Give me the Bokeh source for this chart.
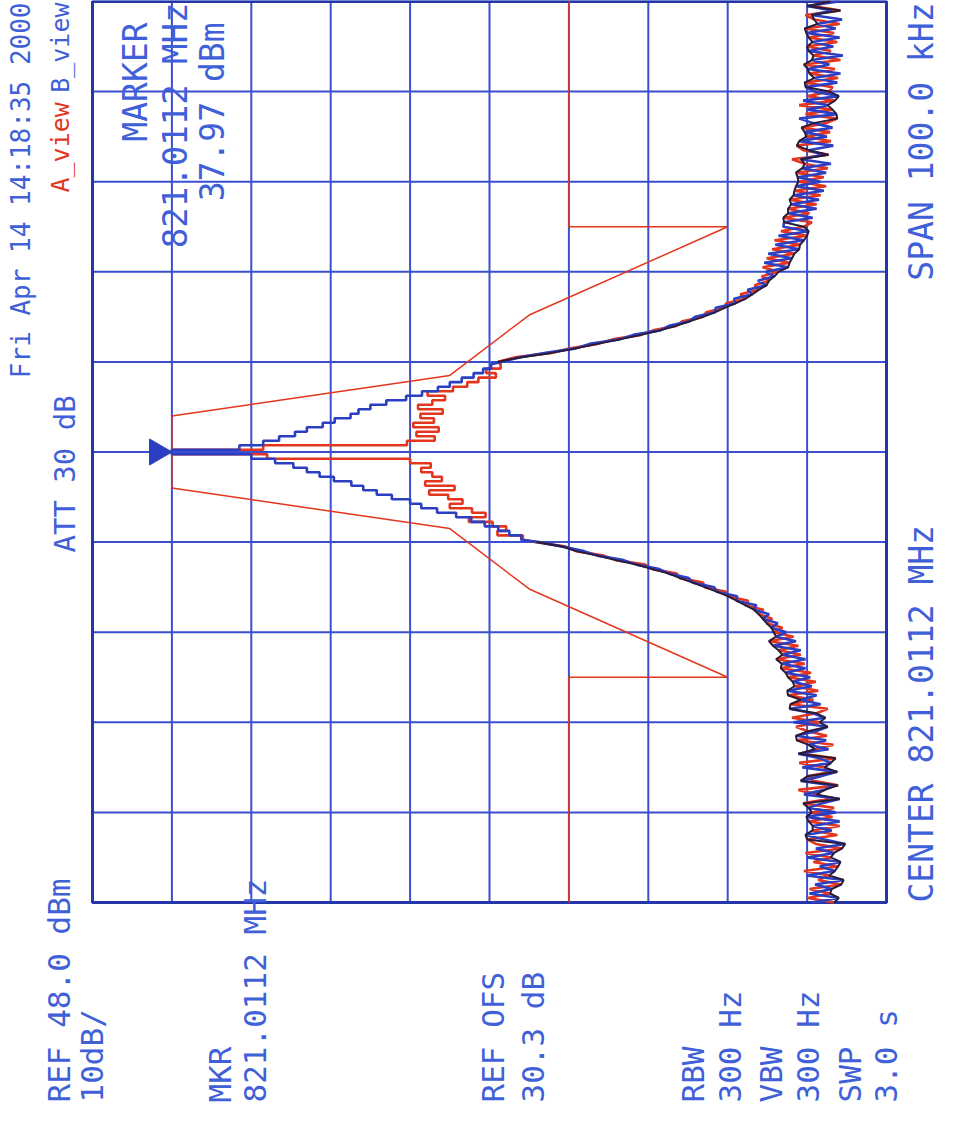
import math
from bokeh.plotting import figure
from bokeh.models import Range1d, Label
from bokeh.embed import file_html
from bokeh.resources import INLINE

# ---------------- data ----------------
FREQ_START = -50.0   # kHz offset from centre
FREQ_STEP = 0.5      # kHz per trace bin

# B_view (blue) trace, dBm, from -50 kHz to +50 kHz
trace_b = [
    -42.6, -46.0, -42.3, -45.1, -43.0, -46.6, -41.9, -45.5, -43.6, -46.2,
    -42.0, -45.4, -43.1, -46.8, -44.2, -41.8, -45.1, -42.7, -46.1, -41.9,
    -45.6, -42.2, -43.8, -46.1, -41.6, -44.2, -45.3, -41.2, -43.7, -45.8,
    -41.4, -45.0, -43.6, -40.9, -44.7, -42.2, -44.4, -40.6, -43.1, -44.6,
    -40.3, -44.3, -42.7, -39.8, -43.7, -41.2, -43.2, -39.5, -42.6, -40.2,
    -42.4, -39.3, -41.8, -38.8, -41.8, -38.9, -41.2, -37.7, -40.6, -38.1,
    -39.4, -37.5, -38.3, -36.4, -37.2, -35.3, -35.6, -33.1, -33.2, -30.6,
    -30.3, -27.6, -27.1, -24.6, -23.4, -20.5, -18.9, -15.6, -13.9, -11.2,
    -8.2, -6.0, -4.5, -3.1, -1.4, 0.3, 2.2, 4.6, 6.6, 8.0,
    10.3, 12.2, 13.9, 15.4, 17.6, 19.4, 21.0, 22.7, 25.0, 28.0,
    38.0,
    29.5, 26.5, 24.5, 22.5, 21.0, 19.0, 17.5, 15.5, 14.5, 13.0,
    11.0, 8.5, 6.5, 4.5, 3.0, 1.5, 0.0, -1.2, -2.2, -3.5,
    -5.8, -9.1, -12.9, -14.6, -18.4, -20.1, -23.5, -24.6, -27.2, -27.9,
    -30.4, -30.5, -33.0, -32.8, -35.1, -34.5, -36.9, -35.8, -37.9, -36.8,
    -39.6, -36.6, -40.1, -37.1, -41.0, -38.0, -41.6, -38.4, -42.2, -39.0,
    -39.1, -42.7, -39.6, -43.2, -40.0, -43.5, -40.3, -44.1, -40.6, -43.7,
    -40.8, -44.4, -41.4, -45.0, -41.2, -44.0, -42.2, -45.3, -41.0, -44.5,
    -41.7, -45.2, -42.8, -41.0, -45.7, -42.1, -44.6, -41.5, -46.0, -43.0,
    -41.8, -45.8, -42.9, -46.2, -42.1, -44.8, -42.6, -46.5, -42.2, -45.3,
    -42.7, -46.1, -41.9, -45.6, -43.3, -46.4, -42.6, -45.1, -42.0, -46.0,
]

# A_view (red) trace, dBm, from -50 kHz to +50 kHz
trace_a = [
    -45.4, -42.1, -44.9, -42.3, -46.3, -43.4, -44.8, -41.6, -45.9, -42.8,
    -45.0, -41.8, -46.4, -43.1, -42.0, -45.8, -42.7, -46.1, -42.2, -45.2,
    -42.6, -45.4, -41.5, -44.8, -43.2, -40.9, -45.9, -42.8, -42.0, -45.1,
    -44.2, -41.0, -45.6, -41.5, -43.0, -45.3, -40.7, -44.5, -42.1, -40.6,
    -43.6, -40.1, -43.2, -44.6, -39.9, -42.8, -39.6, -43.4, -40.4, -43.1,
    -39.6, -42.5, -38.7, -41.7, -38.1, -41.2, -38.4, -40.9, -37.2, -40.3,
    -37.8, -38.9, -36.9, -37.6, -35.9, -36.5, -34.2, -34.6, -32.0, -31.8,
    -29.1, -28.9, -26.0, -25.6, -22.5, -21.6, -17.9, -16.4, -12.9, -11.6,
    -7.9, -6.2, -3.0, -4.1, -2.4, 0.6, -1.5, 0.2, 3.0, 1.4,
    3.2, 5.6, 2.4, 6.1, 4.0, 5.2, 6.6, 5.4, 8.0, 26.0,
    38.0,
    26.5, 8.4, 4.9, 7.2, 4.4, 7.6, 5.0, 6.7, 3.9, 7.0,
    5.2, 3.6, 5.8, 2.6, 0.8, -0.6, -2.8, -1.6, -3.4, -3.0,
    -5.2, -9.8, -12.2, -15.6, -17.5, -21.1, -22.6, -25.5, -26.3, -28.9,
    -29.3, -31.6, -31.8, -34.2, -33.6, -35.9, -35.4, -37.2, -36.3, -38.4,
    -36.4, -39.8, -36.9, -40.4, -37.6, -41.1, -37.9, -42.0, -38.7, -41.6,
    -42.6, -39.0, -42.3, -39.6, -43.2, -39.8, -43.7, -40.4, -44.4, -40.9,
    -44.1, -40.6, -44.6, -41.7, -40.1, -44.7, -41.5, -40.7, -45.0, -41.9,
    -44.9, -41.3, -44.4, -45.8, -41.8, -45.2, -41.0, -45.5, -42.1, -44.8,
    -45.2, -41.7, -45.9, -42.3, -45.5, -41.6, -46.2, -42.8, -45.0, -42.0,
    -45.8, -42.2, -45.4, -41.7, -46.1, -42.9, -41.8, -46.2, -42.7, -44.9,
]

# limit mask (red thin line)
mask_level = [-12, -12, -32, -7, 3, 38, 38, 3, -7, -32, -12, -12]
mask_freq = [50, 25, 25, 15.2, 8.5, 4, -4, -8.5, -15.2, -25, -25, -50]

marker_freq = 0.0
marker_level = 37.97

grid_levels = [48, 38, 28, 18, 8, -2, -12, -22, -32, -42, -52]
grid_freqs = [-50, -40, -30, -20, -10, 0, 10, 20, 30, 40, 50]

date_text = "Fri Apr 14 14:18:35 2000"
view_a_text = "A_view"
view_b_text = "B_view"
att_text = "ATT 30 dB"
marker_lines = ["MARKER", "821.0112 MHz", "37.97 dBm"]
bottom_lines = ["REF 48.0 dBm", "10dB/", "MKR", "821.0112 MHz", "REF OFS", "30.3 dB",
                "RBW", "300 Hz", "VBW", "300 Hz", "SWP", "3.0 s"]
center_text = "CENTER 821.0112 MHz"
span_text = "SPAN 100.0 kHz"

# ---------------- style ----------------
RED = "#e4361f"
BLUE = "#2c3fc2"
DARK = "#2a1c38"
GRID = "#3a4fd0"
BORDER = "#2436a8"
TEXT = "#4060d8"
FONT = "DejaVu Sans Mono"

# page geometry (px): figure at (8, 8), grid box inside it
PAGE_L, PAGE_T, FIG_W, FIG_H = 8, 8, 940, 1109
FRAME_L, FRAME_R, FRAME_T, FRAME_B = 100, 894, 9, 910


def dx(px):
    return grid_levels[0] + (px - FRAME_L) * (grid_levels[-1] - grid_levels[0]) / (FRAME_R - FRAME_L)


def dy(py):
    return grid_freqs[-1] - (py - FRAME_T) * (grid_freqs[-1] - grid_freqs[0]) / (FRAME_B - FRAME_T)


def trace_path(levels):
    # stepped near the carrier, direct sample-to-sample in the noisy skirts
    xs, ys = [], []
    for i, lv in enumerate(levels):
        f = FREQ_START + i * FREQ_STEP
        if math.isnan(lv):
            xs.append(float("nan"))
            ys.append(f)
        elif abs(f) < 10:
            xs += [lv, lv]
            ys += [f - FREQ_STEP / 2, f + FREQ_STEP / 2]
        else:
            xs.append(lv)
            ys.append(f)
    return xs, ys


p = figure(width=FIG_W, height=FIG_H,
           x_range=Range1d(dx(PAGE_L), dx(PAGE_L + FIG_W)),
           y_range=Range1d(dy(PAGE_T + FIG_H), dy(PAGE_T)),
           x_axis_location=None, y_axis_location=None,
           toolbar_location=None, output_backend="svg",
           min_border_left=0, min_border_right=0,
           min_border_top=0, min_border_bottom=0)
p.grid.visible = False
p.outline_line_color = None
p.background_fill_color = "white"
p.border_fill_color = "white"

fmin, fmax = grid_freqs[0], grid_freqs[-1]
lmax, lmin = grid_levels[0], grid_levels[-1]

# graticule
p.segment(x0=grid_levels, y0=[fmin] * len(grid_levels), x1=grid_levels, y1=[fmax] * len(grid_levels),
          line_color=GRID, line_width=2)
p.segment(x0=[lmax] * len(grid_freqs), y0=grid_freqs, x1=[lmin] * len(grid_freqs), y1=grid_freqs,
          line_color=GRID, line_width=2)
p.quad(left=[lmax], right=[lmin], bottom=[fmin], top=[fmax], fill_color=None,
       line_color=BORDER, line_width=3)

# mask
p.line(mask_level, mask_freq, line_color=RED, line_width=1.5)

# traces
ax, ay = trace_path(trace_a)
bx, by = trace_path(trace_b)
p.line(ax, ay, line_color=RED, line_width=2.6)
p.line(bx, by, line_color=BLUE, line_width=2.6)

# where both traces overlap (skirts) the print shows a dark core
dark = []
for i, (a, b) in enumerate(zip(trace_a, trace_b)):
    f = FREQ_START + i * FREQ_STEP
    if abs(f) < 10:
        dark.append(float("nan"))
    else:
        dark.append(a if i % 2 == 0 else b)
kx, ky = trace_path(dark)
p.line(kx, ky, line_color=DARK, line_width=2.0)

# marker triangle (pointing at the peak)
p.scatter([marker_level + 1.9], [marker_freq], marker="triangle", size=26,
          angle=-math.pi / 2, fill_color=BLUE, line_color=BLUE)


def vlabel(px, py, text, align, size, color=TEXT):
    p.add_layout(Label(x=dx(px), y=dy(py), text=text, angle=math.pi / 2,
                       text_align=align, text_baseline="middle",
                       text_font=FONT, text_font_size=size, text_color=color))


# top-left header
vlabel(28, 10, date_text, "right", "26px")
vlabel(68, 200, view_a_text, "left", "25px", RED)
vlabel(68, 10, view_b_text, "right", "25px")
vlabel(72, 560, att_text, "left", "29px")

# marker readout inside the grid
vlabel(143, 30, marker_lines[0], "right", "33px")
vlabel(182, 10, marker_lines[1], "right", "34px")
vlabel(220, 30, marker_lines[2], "right", "33px")

# bottom settings
bottom_x = [66, 99, 227, 262, 500, 540, 700, 737, 778, 815, 857, 893]
for bxp, txt in zip(bottom_x, bottom_lines):
    vlabel(bxp, 1110, txt, "left", "31px")

# right column
vlabel(929, 910, center_text, "left", "33px")
vlabel(929, 10, span_text, "right", "33px")

open("out.html", "w").write(file_html(p, INLINE))
